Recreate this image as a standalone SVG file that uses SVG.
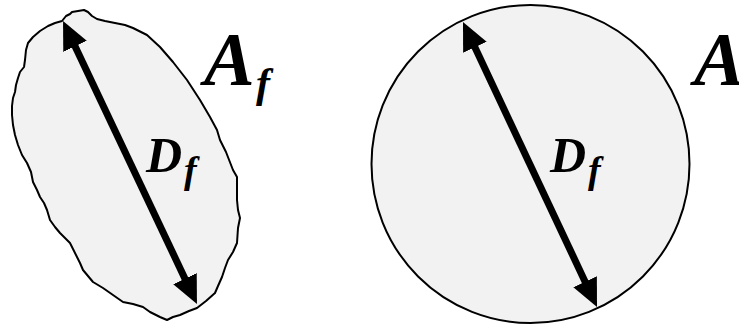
<svg xmlns="http://www.w3.org/2000/svg" width="739" height="327" viewBox="0 0 739 327">
  <style>
    .shape { fill: #f2f2f2; stroke: #000; stroke-width: 2; stroke-linejoin: round; }
    .dim { stroke: #000; stroke-width: 7; fill: none; marker-start: url(#head); marker-end: url(#head); }
    .lbl { font-family: "Liberation Serif", "Times New Roman", serif; font-weight: bold; font-style: italic; fill: #000; }
  </style>
  <defs>
    <marker id="head" markerUnits="userSpaceOnUse" viewBox="0 0 28 26" refX="8" refY="13" markerWidth="28" markerHeight="26" orient="auto-start-reverse">
      <path d="M0,0 L28,13 L0,26 z" fill="#000"/>
    </marker>
  </defs>

  <g id="irregular-particle">
    <path class="shape" d="M62,21 L66,16 L70,14 L72,12 L78,11 L84,10 L88,12 L92,16 L97,19 L105,21 L115,23 L125,25 L133,28 L147,35 L160,47 L173,62 L187,80 L200,100 L210,117 L217,130 L220,140 L226,152 L233,170 L237,177 L237,190 L237,200 L238,210 L240,218 L238,228 L237,243 L233,252 L228,260 L225,268 L222,277 L218,286 L215,293 L206,301 L197,308 L189,311 L180,315 L173,317 L167,320 L160,317 L150,312 L143,307 L133,304 L123,302 L113,295 L103,288 L93,282 L88,276 L83,270 L80,263 L77,257 L73,249 L70,243 L65,238 L60,233 L55,227 L50,220 L47,210 L44,203 L40,197 L37,190 L33,182 L31,172 L27,163 L22,155 L18,145 L15,135 L13,125 L12,115 L12,106 L13,98 L15,92 L16,85 L18,78 L20,72 L24,67 L25,60 L26,50 L28,43 L33,37 L40,31 L48,26 L55,23 Z"/>
    <text class="lbl" x="146" y="172" font-size="50">D</text>
    <text class="lbl" x="184" y="183" font-size="38">f</text>
  </g>

  <g id="label-Af">
    <text class="lbl" x="204" y="85" font-size="76">A</text>
    <text class="lbl" x="256" y="97" font-size="42">f</text>
  </g>

  <g id="equivalent-circle">
    <circle class="shape" cx="530.5" cy="164" r="159"/>
    <text class="lbl" x="550" y="172" font-size="50">D</text>
    <text class="lbl" x="588" y="183" font-size="38">f</text>
  </g>

  <g id="label-A">
    <text class="lbl" x="694" y="85" font-size="76">A</text>
  </g>

  <g id="connectors">
    <line class="dim" x1="71.6" y1="39.1" x2="188.4" y2="285.9"/>
    <line class="dim" x1="471.5" y1="40.1" x2="588.5" y2="288.9"/>
  </g>
</svg>
